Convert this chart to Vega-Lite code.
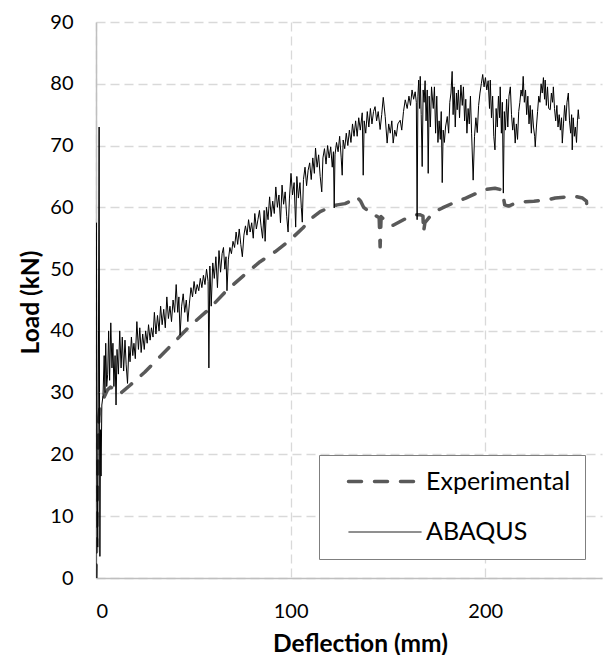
{
  "$schema": "https://vega.github.io/schema/vega-lite/v6.json",
  "width": 506,
  "height": 556,
  "autosize": {"type": "none"},
  "padding": {"left": 96, "top": 22, "right": 10, "bottom": 77},
  "background": "white",
  "config": {
    "view": {"stroke": null},
    "font": "Lato",
    "axis": {
      "domainColor": "#bfbfbf",
      "domainWidth": 1.5,
      "gridColor": "#d9d9d9",
      "gridDash": [9, 5],
      "gridWidth": 1.3,
      "ticks": false,
      "tickSize": 0,
      "labelFont": "Lato",
      "labelFontSize": 20,
      "labelColor": "#000000",
      "labelPadding": 23,
      "titleFont": "Lato",
      "titleFontSize": 24.5,
      "titleFontWeight": "bold",
      "titleColor": "#000000"
    }
  },
  "datasets": {
    "experimental": [
      {"x": 0, "y": 0}, {"x": 0.5, "y": 10}, {"x": 1.0, "y": 20}, {"x": 1.5, "y": 26}, {"x": 2.0, "y": 27.5},
      {"x": 3.0, "y": 28.5}, {"x": 4.5, "y": 29.5}, {"x": 6.0, "y": 30.5}, {"x": 7.5, "y": 30.9}, {"x": 9.5, "y": 30.5},
      {"x": 11.5, "y": 29.8}, {"x": 13.0, "y": 30}, {"x": 17.5, "y": 31.2}, {"x": 25, "y": 33.3}, {"x": 35, "y": 36.5},
      {"x": 48.3, "y": 40.8}, {"x": 58, "y": 43.5}, {"x": 67.3, "y": 46.6}, {"x": 76, "y": 49}, {"x": 84.3, "y": 51.2},
      {"x": 92, "y": 52.8}, {"x": 99.7, "y": 54.7}, {"x": 106.4, "y": 56.7}, {"x": 111, "y": 58.3}, {"x": 115.2, "y": 59.3},
      {"x": 120, "y": 60}, {"x": 123.9, "y": 60.4}, {"x": 128, "y": 60.6}, {"x": 132, "y": 61.2}, {"x": 134, "y": 61.7},
      {"x": 136, "y": 61}, {"x": 137.5, "y": 60}, {"x": 139.2, "y": 59.6}, {"x": 141, "y": 59.6}, {"x": 143, "y": 58.8},
      {"x": 145.5, "y": 58.3}, {"x": 146, "y": 53.6}, {"x": 146.5, "y": 58.5}, {"x": 148, "y": 58}, {"x": 150, "y": 57.3},
      {"x": 152.7, "y": 57.1}, {"x": 158, "y": 58}, {"x": 164, "y": 58.8}, {"x": 166.6, "y": 58.8}, {"x": 168, "y": 58.6},
      {"x": 168.3, "y": 56}, {"x": 169, "y": 57.5}, {"x": 173, "y": 59.1}, {"x": 178, "y": 59.9}, {"x": 183.5, "y": 60.7},
      {"x": 190, "y": 61.5}, {"x": 195.7, "y": 62.3}, {"x": 200, "y": 62.9}, {"x": 205, "y": 63.1}, {"x": 208.7, "y": 62.8},
      {"x": 210, "y": 60.4}, {"x": 212, "y": 60.2}, {"x": 215, "y": 60.6}, {"x": 219.5, "y": 60.9}, {"x": 225, "y": 61},
      {"x": 231.7, "y": 61.2}, {"x": 236, "y": 61.5}, {"x": 242, "y": 61.7}, {"x": 246, "y": 61.8}, {"x": 250, "y": 61.5},
      {"x": 252, "y": 61}, {"x": 252.5, "y": 59.3}
    ],
    "abaqus": [
      {"x": 0, "y": 0}, {"x": 0.2, "y": 57.5}, {"x": 0.5, "y": 22}, {"x": 0.9, "y": 5}, {"x": 1.3, "y": 40}, {"x": 1.6, "y": 73},
      {"x": 1.8, "y": 30}, {"x": 2.0, "y": 3.5}, {"x": 2.3, "y": 24}, {"x": 2.6, "y": 16.5}, {"x": 3.0, "y": 28}, {"x": 3.6, "y": 29.5},
      {"x": 4.2, "y": 36}, {"x": 4.6, "y": 30}, {"x": 5.0, "y": 38}, {"x": 5.5, "y": 31}, {"x": 6.0, "y": 33}, {"x": 6.5, "y": 40},
      {"x": 7.0, "y": 32}, {"x": 7.6, "y": 41.3}, {"x": 8.2, "y": 34}, {"x": 8.7, "y": 38}, {"x": 9.2, "y": 31}, {"x": 9.8, "y": 36},
      {"x": 10.3, "y": 28}, {"x": 10.8, "y": 37}, {"x": 11.5, "y": 33}, {"x": 12.2, "y": 40}, {"x": 12.9, "y": 34}, {"x": 13.5, "y": 39},
      {"x": 14.2, "y": 33.5}, {"x": 14.9, "y": 38.5}, {"x": 15.5, "y": 34.5}, {"x": 16.2, "y": 31.5}, {"x": 16.9, "y": 37.5}, {"x": 17.5, "y": 35},
      {"x": 18.2, "y": 39}, {"x": 18.9, "y": 36}, {"x": 19.5, "y": 38}, {"x": 20.2, "y": 35.5}, {"x": 21.0, "y": 41.5}, {"x": 21.8, "y": 37},
      {"x": 22.5, "y": 40.5}, {"x": 23.2, "y": 36.5}, {"x": 24.0, "y": 39.5}, {"x": 24.8, "y": 37}, {"x": 25.5, "y": 40}, {"x": 26.3, "y": 38},
      {"x": 27.0, "y": 41}, {"x": 27.8, "y": 38.5}, {"x": 28.5, "y": 40.5}, {"x": 29.3, "y": 39}, {"x": 30.0, "y": 43}, {"x": 30.8, "y": 39.5},
      {"x": 31.6, "y": 42.5}, {"x": 32.4, "y": 40}, {"x": 33.2, "y": 44}, {"x": 34.0, "y": 41}, {"x": 34.8, "y": 43.5}, {"x": 35.6, "y": 40.5},
      {"x": 36.4, "y": 45.5}, {"x": 37.2, "y": 42}, {"x": 38.0, "y": 44}, {"x": 38.8, "y": 41.5}, {"x": 39.6, "y": 45}, {"x": 40.4, "y": 43},
      {"x": 41.2, "y": 47.5}, {"x": 42.0, "y": 43}, {"x": 42.6, "y": 45.5}, {"x": 43.2, "y": 39.3}, {"x": 44.0, "y": 44}, {"x": 44.8, "y": 46},
      {"x": 45.6, "y": 43}, {"x": 46.4, "y": 45}, {"x": 47.2, "y": 41.5}, {"x": 48.0, "y": 44.5}, {"x": 48.8, "y": 47}, {"x": 49.6, "y": 45.5},
      {"x": 50.4, "y": 48}, {"x": 51.2, "y": 46}, {"x": 52.0, "y": 47.5}, {"x": 52.8, "y": 46.5}, {"x": 53.6, "y": 48.5}, {"x": 54.4, "y": 47},
      {"x": 55.2, "y": 49}, {"x": 56.0, "y": 47.5}, {"x": 56.8, "y": 50}, {"x": 57.6, "y": 48}, {"x": 58.0, "y": 34}, {"x": 58.5, "y": 50.5},
      {"x": 59.2, "y": 44}, {"x": 60.0, "y": 51}, {"x": 60.8, "y": 48.5}, {"x": 61.6, "y": 52}, {"x": 62.4, "y": 47}, {"x": 63.2, "y": 53},
      {"x": 64.0, "y": 49.5}, {"x": 64.8, "y": 52.5}, {"x": 65.5, "y": 53.5}, {"x": 66.2, "y": 50}, {"x": 66.8, "y": 52}, {"x": 67.3, "y": 46.5},
      {"x": 68.0, "y": 51.5}, {"x": 68.8, "y": 53.5}, {"x": 69.6, "y": 52.5}, {"x": 70.4, "y": 54.5}, {"x": 71.2, "y": 53.5}, {"x": 72.0, "y": 56},
      {"x": 72.8, "y": 54}, {"x": 73.6, "y": 56.5}, {"x": 74.4, "y": 54}, {"x": 75.2, "y": 52}, {"x": 76.0, "y": 55.5}, {"x": 76.8, "y": 57},
      {"x": 77.6, "y": 55.5}, {"x": 78.4, "y": 58}, {"x": 79.2, "y": 56}, {"x": 80.0, "y": 57.5}, {"x": 80.8, "y": 55}, {"x": 81.6, "y": 59},
      {"x": 82.4, "y": 56.5}, {"x": 83.2, "y": 58}, {"x": 84.0, "y": 59.5}, {"x": 84.8, "y": 57}, {"x": 85.6, "y": 55}, {"x": 86.4, "y": 59.5},
      {"x": 86.9, "y": 54.5}, {"x": 87.6, "y": 60}, {"x": 88.4, "y": 58}, {"x": 89.2, "y": 61.7}, {"x": 90.0, "y": 58.5}, {"x": 90.8, "y": 61},
      {"x": 91.6, "y": 59}, {"x": 92.4, "y": 63.3}, {"x": 93.2, "y": 60}, {"x": 94.0, "y": 62}, {"x": 94.8, "y": 57.5}, {"x": 95.6, "y": 63.6},
      {"x": 96.4, "y": 60.5}, {"x": 97.2, "y": 62.5}, {"x": 98.0, "y": 58.5}, {"x": 98.7, "y": 56}, {"x": 99.4, "y": 61.5}, {"x": 100.2, "y": 65.5},
      {"x": 101.0, "y": 62}, {"x": 101.8, "y": 64}, {"x": 102.6, "y": 56.8}, {"x": 103.2, "y": 65}, {"x": 104.0, "y": 61.5}, {"x": 104.8, "y": 64},
      {"x": 105.5, "y": 60}, {"x": 106.0, "y": 57.6}, {"x": 106.6, "y": 64.5}, {"x": 107.4, "y": 66.5}, {"x": 108.2, "y": 63.5}, {"x": 109.0, "y": 66},
      {"x": 109.8, "y": 67.2}, {"x": 110.6, "y": 64.5}, {"x": 111.4, "y": 68}, {"x": 112.2, "y": 65.5}, {"x": 112.8, "y": 69.6}, {"x": 113.6, "y": 66.5},
      {"x": 114.4, "y": 68.5}, {"x": 115.2, "y": 65}, {"x": 116.0, "y": 62.5}, {"x": 116.6, "y": 68}, {"x": 117.4, "y": 69.5}, {"x": 118.2, "y": 67},
      {"x": 119.0, "y": 70}, {"x": 119.8, "y": 68}, {"x": 120.6, "y": 69.8}, {"x": 121.4, "y": 66.5}, {"x": 122.0, "y": 69}, {"x": 122.4, "y": 59.9},
      {"x": 122.8, "y": 68.5}, {"x": 123.6, "y": 70.5}, {"x": 124.4, "y": 69}, {"x": 125.2, "y": 71.5}, {"x": 126.0, "y": 68}, {"x": 126.5, "y": 65.2},
      {"x": 127.0, "y": 70.9}, {"x": 127.8, "y": 69.5}, {"x": 128.6, "y": 72}, {"x": 129.4, "y": 70}, {"x": 130.2, "y": 72.5}, {"x": 131.0, "y": 70.5},
      {"x": 131.8, "y": 73.5}, {"x": 132.6, "y": 71.5}, {"x": 133.4, "y": 74}, {"x": 134.2, "y": 71.5}, {"x": 135.0, "y": 74.5}, {"x": 135.8, "y": 72.5},
      {"x": 136.8, "y": 75.3}, {"x": 137.3, "y": 65.2}, {"x": 137.8, "y": 74}, {"x": 138.6, "y": 72}, {"x": 139.4, "y": 75.5}, {"x": 140.2, "y": 73},
      {"x": 141.0, "y": 76}, {"x": 141.8, "y": 73.5}, {"x": 142.6, "y": 75.5}, {"x": 143.4, "y": 76.3}, {"x": 144.2, "y": 74}, {"x": 145.0, "y": 75.5},
      {"x": 146.0, "y": 72.6}, {"x": 146.8, "y": 75}, {"x": 147.6, "y": 77.8}, {"x": 148.6, "y": 74.7}, {"x": 149.6, "y": 70.4}, {"x": 150.4, "y": 73.5},
      {"x": 151.2, "y": 72}, {"x": 152.0, "y": 74}, {"x": 152.7, "y": 70.4}, {"x": 153.5, "y": 72.5}, {"x": 154.3, "y": 71.5}, {"x": 155.1, "y": 73.5},
      {"x": 156.3, "y": 74.1}, {"x": 157.1, "y": 72.5}, {"x": 158.0, "y": 75.5}, {"x": 158.9, "y": 77.4}, {"x": 159.9, "y": 76}, {"x": 160.8, "y": 78},
      {"x": 161.6, "y": 76.5}, {"x": 162.4, "y": 79}, {"x": 163.2, "y": 77.5}, {"x": 164.0, "y": 78.7}, {"x": 164.6, "y": 77}, {"x": 165.0, "y": 58},
      {"x": 165.4, "y": 78}, {"x": 165.8, "y": 80.6}, {"x": 166.3, "y": 76}, {"x": 166.6, "y": 81.2}, {"x": 167.1, "y": 75}, {"x": 167.6, "y": 66.6},
      {"x": 168.1, "y": 79}, {"x": 168.6, "y": 77}, {"x": 169.1, "y": 80.5}, {"x": 169.6, "y": 74}, {"x": 170.2, "y": 79}, {"x": 170.7, "y": 65.5},
      {"x": 171.2, "y": 78}, {"x": 171.8, "y": 73}, {"x": 172.4, "y": 79.5}, {"x": 173.3, "y": 76}, {"x": 173.9, "y": 79.5}, {"x": 174.5, "y": 72},
      {"x": 175.1, "y": 78}, {"x": 175.7, "y": 70.5}, {"x": 176.3, "y": 74}, {"x": 176.9, "y": 71}, {"x": 177.4, "y": 75.5}, {"x": 177.9, "y": 64},
      {"x": 178.4, "y": 72.5}, {"x": 179.0, "y": 70.5}, {"x": 179.6, "y": 73}, {"x": 180.5, "y": 74.7}, {"x": 181.2, "y": 72}, {"x": 181.8, "y": 77},
      {"x": 182.4, "y": 78.5}, {"x": 183.0, "y": 82}, {"x": 183.5, "y": 75}, {"x": 184.0, "y": 79.5}, {"x": 184.6, "y": 73}, {"x": 185.2, "y": 78.5},
      {"x": 185.6, "y": 75.8}, {"x": 186.2, "y": 79}, {"x": 186.8, "y": 74.5}, {"x": 187.5, "y": 79.8}, {"x": 188.2, "y": 76.5}, {"x": 188.8, "y": 79.5},
      {"x": 189.4, "y": 74}, {"x": 190.0, "y": 77.5}, {"x": 190.6, "y": 72}, {"x": 191.2, "y": 76}, {"x": 191.8, "y": 73.5}, {"x": 192.4, "y": 78},
      {"x": 193.0, "y": 72}, {"x": 193.8, "y": 64.4}, {"x": 194.5, "y": 71.5}, {"x": 195.2, "y": 74.5}, {"x": 195.9, "y": 72.1}, {"x": 196.6, "y": 76.5},
      {"x": 197.3, "y": 78.5}, {"x": 198.0, "y": 80}, {"x": 198.7, "y": 81.5}, {"x": 199.4, "y": 79.5}, {"x": 200.1, "y": 81}, {"x": 200.8, "y": 79},
      {"x": 201.5, "y": 80.5}, {"x": 202.2, "y": 76}, {"x": 202.6, "y": 80.6}, {"x": 203.2, "y": 74.5}, {"x": 203.8, "y": 78}, {"x": 204.4, "y": 71.5},
      {"x": 205.0, "y": 69.3}, {"x": 205.6, "y": 76}, {"x": 206.2, "y": 73}, {"x": 206.8, "y": 78}, {"x": 207.4, "y": 74.5}, {"x": 207.7, "y": 79.5},
      {"x": 208.3, "y": 72}, {"x": 208.8, "y": 77}, {"x": 209.3, "y": 62.3}, {"x": 209.8, "y": 75.5}, {"x": 210.4, "y": 72.5}, {"x": 211.0, "y": 77.5},
      {"x": 211.6, "y": 73}, {"x": 212.2, "y": 78}, {"x": 212.9, "y": 79.5}, {"x": 213.5, "y": 75}, {"x": 214.1, "y": 72.5}, {"x": 214.7, "y": 74.5},
      {"x": 215.4, "y": 70.4}, {"x": 216.0, "y": 73.5}, {"x": 216.6, "y": 71}, {"x": 217.2, "y": 75.5}, {"x": 217.8, "y": 77}, {"x": 218.4, "y": 79},
      {"x": 219.0, "y": 78}, {"x": 219.5, "y": 81.2}, {"x": 220.1, "y": 77}, {"x": 220.7, "y": 79}, {"x": 221.3, "y": 75}, {"x": 221.9, "y": 78},
      {"x": 222.5, "y": 73.5}, {"x": 223.1, "y": 76.5}, {"x": 223.7, "y": 72}, {"x": 224.2, "y": 75.8}, {"x": 224.8, "y": 73}, {"x": 225.4, "y": 71.5},
      {"x": 225.7, "y": 69.8}, {"x": 226.3, "y": 73}, {"x": 226.9, "y": 75.5}, {"x": 227.5, "y": 78}, {"x": 228.1, "y": 77}, {"x": 228.7, "y": 80},
      {"x": 229.3, "y": 78.5}, {"x": 229.9, "y": 81}, {"x": 230.5, "y": 77.5}, {"x": 230.8, "y": 80.6}, {"x": 231.4, "y": 76.5}, {"x": 232.0, "y": 79.5},
      {"x": 232.6, "y": 76}, {"x": 233.4, "y": 75.8}, {"x": 234.0, "y": 78.5}, {"x": 234.6, "y": 77}, {"x": 235.0, "y": 79.5}, {"x": 235.6, "y": 76},
      {"x": 236.2, "y": 74}, {"x": 236.8, "y": 76.5}, {"x": 237.4, "y": 73}, {"x": 238.0, "y": 75}, {"x": 238.6, "y": 72.5}, {"x": 239.2, "y": 74.5},
      {"x": 239.6, "y": 70.4}, {"x": 240.2, "y": 73.5}, {"x": 240.8, "y": 76.5}, {"x": 241.4, "y": 74}, {"x": 242.0, "y": 77}, {"x": 242.7, "y": 78.5},
      {"x": 243.3, "y": 74}, {"x": 243.9, "y": 72}, {"x": 244.4, "y": 75}, {"x": 244.7, "y": 69.3}, {"x": 245.2, "y": 74.5}, {"x": 245.8, "y": 71.5},
      {"x": 246.3, "y": 73}, {"x": 246.9, "y": 70.5}, {"x": 247.4, "y": 74}, {"x": 247.8, "y": 75.8}, {"x": 248.2, "y": 74.3}
    ]
  },
  "encoding": {
    "x": {
      "field": "x", "type": "quantitative",
      "scale": {"domain": [0, 260], "nice": false, "zero": true},
      "axis": {"values": [0, 100, 200], "title": "Deflection (mm)", "titleX": 264, "titleY": 73, "titleBaseline": "alphabetic", "titleAnchor": null, "titleAlign": "center"}
    },
    "y": {
      "field": "y", "type": "quantitative",
      "scale": {"domain": [0, 90], "nice": false},
      "axis": {"values": [0, 10, 20, 30, 40, 50, 60, 70, 80, 90], "title": "Load (kN)", "titleX": -58, "titleY": 280, "titleBaseline": "alphabetic", "titleAlign": "center", "titleAngle": -90}
    },
    "color": {
      "field": "series", "type": "nominal",
      "scale": {"domain": ["Experimental", "ABAQUS"], "range": ["#595959", "#000000"]},
      "legend": {
        "title": null,
        "orient": "none",
        "legendX": 223,
        "legendY": 433,
        "padding": 14,
        "strokeColor": "#7f7f7f",
        "fillColor": "#ffffff",
        "symbolType": "M0.6,0H15.2",
        "symbolSize": 100,
        "symbolStrokeWidth": 1,
        "labelOffset": 68,
        "labelFont": "Lato",
        "labelFontSize": 25,
        "labelColor": "#000000",
        "rowPadding": 24.5,
        "encode": {
          "symbols": {
            "update": {
              "strokeWidth": {"signal": "datum.value === 'Experimental' ? 3.5 : 1"},
              "strokeDash": {"signal": "datum.value === 'Experimental' ? [13, 13] : [1, 0]"},
              "strokeCap": {"signal": "datum.value === 'Experimental' ? 'round' : 'butt'"},
              "fill": {"value": "transparent"}
            }
          }
        }
      }
    }
  },
  "layer": [
    {
      "data": {"name": "experimental"},
      "transform": [{"calculate": "'Experimental'", "as": "series"}],
      "mark": {"type": "line", "strokeWidth": 3.5, "strokeDash": [13, 13], "strokeCap": "round", "strokeJoin": "round", "clip": true}
    },
    {
      "data": {"name": "abaqus"},
      "transform": [{"calculate": "'ABAQUS'", "as": "series"}],
      "mark": {"type": "line", "strokeWidth": 1, "clip": true}
    }
  ]
}
